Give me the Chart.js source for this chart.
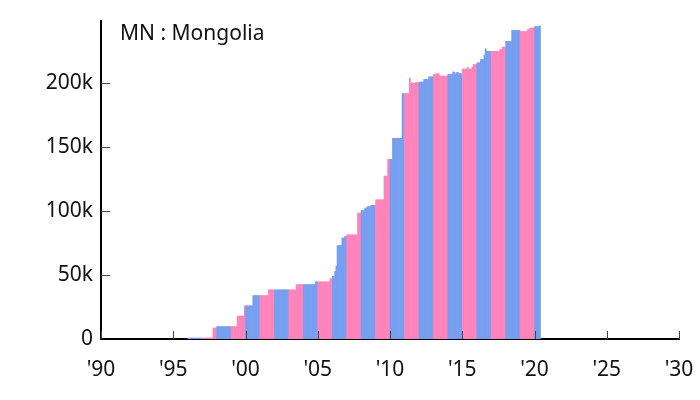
<!DOCTYPE html>
<html>
<head>
<meta charset="utf-8">
<script src="https://cdn.jsdelivr.net/npm/chart.js@4/dist/chart.umd.min.js"></script>
<style>
  html, body { margin: 0; padding: 0; background: #fff; }
</style>
</head>
<body>
<canvas id="myChart" width="700" height="400"></canvas>
<script>
const title = "MN : Mongolia";
const startYear = 1996;
// monthly totals in thousands, one row per year (Jan..Dec)
const values = [
  0.7, 0.7, 0.7, 0.7, 0.7, 0.7, 0.7, 0.7, 0.7, 0.7, 0.7, 0.7,
  0.7, 0.7, 0.7, 0.7, 0.7, 0.7, 0.7, 0.7, 0.7, 8.5, 8.5, 8.5,
  9.7, 9.7, 9.7, 9.7, 9.7, 9.7, 9.7, 9.7, 9.7, 9.7, 9.7, 9.7,
  9.7, 9.7, 9.7, 9.7, 9.7, 18, 18, 18, 18, 18, 18, 26,
  26, 26, 26, 26, 26, 26, 34, 34, 34, 34, 34, 34,
  34, 34, 34, 34, 34, 34, 34, 38.5, 38.5, 38.5, 38.5, 38.5,
  38.5, 38.5, 38.5, 38.5, 38.5, 38.5, 38.5, 38.5, 38.5, 38.5, 38.5, 38.5,
  38.5, 38.5, 38.5, 38.5, 38.5, 38.5, 42.5, 42.5, 42.5, 42.5, 42.5, 42.5,
  42.5, 42.5, 42.5, 42.5, 42.5, 42.5, 42.5, 42.5, 42.5, 42.5, 44.7, 44.7,
  44.7, 44.7, 44.7, 44.7, 44.7, 44.7, 44.7, 44.7, 44.7, 44.7, 47, 47,
  49, 49, 53, 57, 73, 73, 73, 73, 79, 79, 80, 80,
  81.5, 81.5, 81.5, 81.5, 81.5, 81.5, 81.5, 81.5, 81.5, 98.5, 98.5, 98.5,
  100.5, 100.5, 100.5, 102.3, 102.3, 103.6, 103.6, 103.6, 104.6, 104.6, 104.6, 104.6,
  108.8, 108.8, 108.8, 108.8, 108.8, 108.8, 108.8, 127.5, 127.5, 127.5, 140.5, 140.5,
  140.5, 140.5, 157, 157, 157, 157, 157, 157, 157, 157, 192, 192,
  192, 192, 192, 192, 204, 200, 200.5, 200, 200, 200.5, 200.5, 200.5,
  201, 201, 201, 201, 203, 203, 203, 203, 205, 205, 205, 205,
  206.8, 206.8, 207.3, 207.3, 207.3, 205.7, 205.7, 205.7, 205.7, 205.7, 205.7, 205.7,
  207, 207, 207, 207, 208.8, 208.8, 207, 208.3, 208.3, 207.5, 207.5, 207.5,
  211, 211, 211, 211, 212.7, 211, 211, 211, 212.7, 214.6, 214.6, 214.6,
  216, 216, 216, 218.5, 218.5, 218.5, 222, 227, 225, 225, 225, 225,
  225, 225, 225, 225, 225, 225, 225, 226.3, 226.3, 228.3, 228.3, 228.3,
  232.7, 232.7, 232.7, 232.7, 232.7, 241.3, 241.3, 241.3, 241.3, 241.3, 241.3, 241.3,
  240.5, 240.5, 240.5, 240.5, 240.5, 240.5, 242, 242, 243.1, 243.1, 243.1, 243.1,
  244.4, 244.4, 244.4, 244.4, 245
];
const xTicks = [1990, 1995, 2000, 2005, 2010, 2015, 2020, 2025, 2030];
const yTicks = [0, 50, 100, 150, 200];
const yMax = 249;

const blue = "#769ff0";
const pink = "#ff84ba";
const font = '"Noto Sans", sans-serif';

const points = values.map((v, i) => ({ x: startYear + (i + 0.5) / 12, y: v }));
const colors = values.map((v, i) => Math.floor(startYear + i / 12) % 2 === 0 ? blue : pink);

const innerTicks = {
  id: "innerTicks",
  afterDraw(chart) {
    const { ctx, chartArea: a, scales: { x, y } } = chart;
    ctx.save();
    ctx.strokeStyle = "#444";
    ctx.lineWidth = 1;
    ctx.beginPath();
    x.ticks.forEach(t => {
      const px = Math.round(x.getPixelForValue(t.value)) + 0.5;
      ctx.moveTo(px, a.bottom);
      ctx.lineTo(px, a.bottom - 8);
    });
    y.ticks.forEach(t => {
      if (t.value === 0) return;
      const py = Math.round(y.getPixelForValue(t.value)) + 0.5;
      ctx.moveTo(a.left, py);
      ctx.lineTo(a.left + 9, py);
    });
    ctx.stroke();
    ctx.fillStyle = "#111";
    ctx.font = "21px " + font;
    ctx.textBaseline = "middle";
    ctx.fillText(title, a.left + 19, a.top + 13);
    ctx.restore();
  }
};

new Chart(document.getElementById("myChart"), {
  type: "bar",
  data: {
    datasets: [{
      data: points,
      backgroundColor: colors,
      borderWidth: 0,
      barPercentage: 1,
      categoryPercentage: 1
    }]
  },
  options: {
    responsive: false,
    animation: false,
    layout: { padding: { left: 0, right: 21, top: 20, bottom: 0 } },
    plugins: { legend: { display: false }, tooltip: { enabled: false } },
    scales: {
      x: {
        type: "linear",
        min: 1990,
        max: 2030,
        offset: false,
        z: 1,
        grid: { display: false, drawTicks: false },
        border: { color: "#000", width: 2 },
        afterBuildTicks: s => { s.ticks = xTicks.map(v => ({ value: v })); },
        afterFit: s => { s.height = 61; s.paddingLeft = 0; s.paddingRight = 0; },
        ticks: {
          padding: 18,
          color: "#111",
          font: { family: font, size: 21 },
          maxRotation: 0,
          callback: v => "'" + String(v).slice(2)
        }
      },
      y: {
        min: 0,
        max: yMax,
        z: 1,
        grid: { display: false, drawTicks: false },
        border: { color: "#000", width: 2 },
        afterBuildTicks: s => { s.ticks = yTicks.map(v => ({ value: v })); },
        afterFit: s => { s.width = 101; },
        ticks: {
          padding: 8,
          color: "#111",
          font: { family: font, size: 21 },
          callback: v => v === 0 ? "0" : v + "k"
        }
      }
    }
  },
  plugins: [innerTicks]
});
</script>
</body>
</html>
